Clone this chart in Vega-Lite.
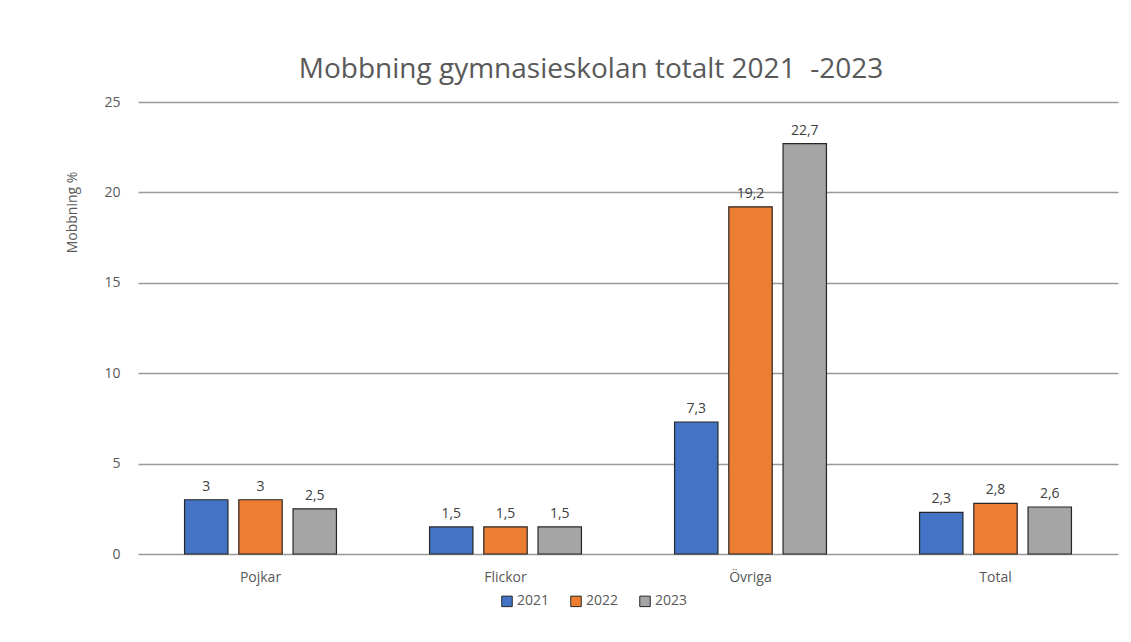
{
  "$schema": "https://vega.github.io/schema/vega-lite/v6.json",
  "width": 980,
  "height": 452,
  "autosize": {"type": "none"},
  "padding": {"left": 138, "top": 102, "right": 13, "bottom": 88},
  "background": "white",
  "title": {
    "text": "Mobbning gymnasieskolan totalt 2021\u00a0\u00a0-2023",
    "font": "Open Sans",
    "fontSize": 28,
    "fontWeight": "normal",
    "color": "#595959",
    "anchor": "middle",
    "dx": -37,
    "offset": 11
  },
  "data": {
    "values": [
      {"kategori": "Pojkar", "år": "2021", "värde": 3, "etikett": "3"},
      {"kategori": "Pojkar", "år": "2022", "värde": 3, "etikett": "3"},
      {"kategori": "Pojkar", "år": "2023", "värde": 2.5, "etikett": "2,5"},
      {"kategori": "Flickor", "år": "2021", "värde": 1.5, "etikett": "1,5"},
      {"kategori": "Flickor", "år": "2022", "värde": 1.5, "etikett": "1,5"},
      {"kategori": "Flickor", "år": "2023", "värde": 1.5, "etikett": "1,5"},
      {"kategori": "Övriga", "år": "2021", "värde": 7.3, "etikett": "7,3"},
      {"kategori": "Övriga", "år": "2022", "värde": 19.2, "etikett": "19,2"},
      {"kategori": "Övriga", "år": "2023", "värde": 22.7, "etikett": "22,7"},
      {"kategori": "Total", "år": "2021", "värde": 2.3, "etikett": "2,3"},
      {"kategori": "Total", "år": "2022", "värde": 2.8, "etikett": "2,8"},
      {"kategori": "Total", "år": "2023", "värde": 2.6, "etikett": "2,6"}
    ]
  },
  "encoding": {
    "x": {
      "field": "kategori",
      "type": "nominal",
      "sort": ["Pojkar", "Flickor", "Övriga", "Total"],
      "scale": {"paddingInner": 0.38, "paddingOuter": 0.19},
      "axis": {
        "title": null,
        "labelAngle": 0,
        "labelFont": "Open Sans",
        "labelFontSize": 14,
        "labelColor": "#595959",
        "labelPadding": 16,
        "ticks": false,
        "domain": false,
        "grid": false
      }
    },
    "xOffset": {
      "field": "år",
      "type": "nominal",
      "scale": {"paddingInner": 0.2, "paddingOuter": 0}
    },
    "y": {
      "field": "värde",
      "type": "quantitative",
      "scale": {"domain": [0, 25]},
      "axis": {
        "title": "Mobbning %",
        "titleFont": "Open Sans",
        "titleFontSize": 14,
        "titleFontWeight": "normal",
        "titleColor": "#595959",
        "titleAngle": -90,
        "titleAlign": "center",
        "titleBaseline": "middle",
        "titleX": -66,
        "titleY": 110,
        "values": [0, 5, 10, 15, 20, 25],
        "labelFont": "Open Sans",
        "labelFontSize": 14,
        "labelColor": "#595959",
        "labelPadding": 18,
        "ticks": false,
        "domain": false,
        "grid": true,
        "gridColor": "#999999",
        "gridWidth": 1.3
      }
    }
  },
  "layer": [
    {
      "mark": {"type": "bar", "stroke": "#262626", "strokeWidth": 1.2},
      "encoding": {
        "color": {
          "field": "år",
          "type": "nominal",
          "scale": {"domain": ["2021", "2022", "2023"], "range": ["#4472C4", "#ED7D31", "#A5A5A5"]},
          "legend": {
            "title": null,
            "orient": "none",
            "direction": "horizontal",
            "legendX": 362,
            "legendY": 492,
            "symbolType": "square",
            "symbolSize": 110,
            "symbolStrokeColor": "#262626",
            "symbolStrokeWidth": 1,
            "labelFont": "Open Sans",
            "labelFontSize": 14,
            "labelColor": "#595959",
            "labelOffset": 3,
            "columnPadding": 18
          }
        }
      }
    },
    {
      "mark": {
        "type": "text",
        "baseline": "bottom",
        "dy": -6,
        "font": "Open Sans",
        "fontSize": 14,
        "color": "#404040"
      },
      "encoding": {
        "text": {"field": "etikett", "type": "nominal"}
      }
    }
  ],
  "config": {"view": {"stroke": null}}
}
